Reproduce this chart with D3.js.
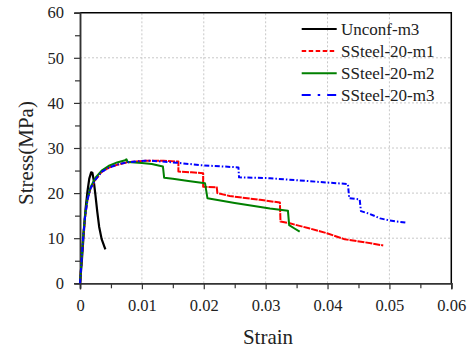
<!DOCTYPE html>
<html>
<head>
<meta charset="utf-8">
<script src="https://cdn.jsdelivr.net/npm/d3@7"></script>
</head>
<body style="margin:0">
<script>
// stress-strain curves
const unconfStrain = [0, 0.0003, 0.0006, 0.0009, 0.0012, 0.0015, 0.0018, 0.002, 0.0022, 0.0025, 0.0028, 0.0031, 0.0035, 0.0041];
const unconfStress = [0, 5, 11, 16.5, 20.3, 23.2, 24.6, 24.5, 23, 19.5, 15.8, 12.5, 9.8, 7.5];

const m1Strain = [0, 0.0002, 0.0005, 0.0008, 0.0012, 0.0017, 0.0025, 0.0035, 0.0046, 0.006, 0.0075, 0.009, 0.0105, 0.0113, 0.0135, 0.0159, 0.0159, 0.018, 0.0199, 0.0199, 0.0221, 0.0222, 0.0242, 0.0291, 0.0323, 0.0324, 0.0339, 0.037, 0.0399, 0.0428, 0.046, 0.049];
const m1Stress = [0, 4, 10, 14.5, 18.5, 21, 23, 24.7, 25.6, 26.3, 26.8, 27.0, 27.15, 27.2, 27.15, 27.0, 24.8, 24.6, 24.4, 21.4, 21.3, 20.0, 19.35, 18.5, 17.9, 13.7, 13.3, 12.2, 11.1, 9.75, 9.1, 8.4];

const m2Strain = [0, 0.0002, 0.0005, 0.0008, 0.0012, 0.0017, 0.0025, 0.0035, 0.0046, 0.006, 0.0073, 0.0075, 0.0077, 0.01, 0.0116, 0.0134, 0.0136, 0.015, 0.0175, 0.0202, 0.0206, 0.025, 0.0307, 0.0336, 0.0338, 0.0346, 0.0355];
const m2Stress = [0, 4, 10.3, 14.8, 18.7, 21.3, 23.4, 25.0, 26.0, 26.8, 27.3, 27.5, 26.9, 26.65, 26.45, 25.9, 23.4, 23.2, 22.7, 22.2, 18.85, 17.8, 16.6, 16.1, 12.9, 12.2, 11.45];

const m3Strain = [0, 0.0002, 0.0005, 0.0008, 0.0012, 0.0017, 0.0025, 0.0035, 0.0046, 0.006, 0.0075, 0.009, 0.0105, 0.0113, 0.0156, 0.0194, 0.0256, 0.0257, 0.0307, 0.0433, 0.0435, 0.0452, 0.0454, 0.0468, 0.0485, 0.0501, 0.0527];
const m3Stress = [0, 4, 10, 14.5, 18.5, 21, 23, 24.7, 25.6, 26.3, 26.8, 27.0, 27.15, 27.2, 26.75, 26.2, 25.7, 23.5, 23.3, 22.0, 18.85, 18.6, 16.0, 15.4, 14.4, 13.9, 13.45];

const seriesNames = ["Unconf-m3", "SSteel-20-m1", "SSteel-20-m2", "SSteel-20-m3"];
const xTicks = [0, 0.01, 0.02, 0.03, 0.04, 0.05, 0.06];
const yTicks = [0, 10, 20, 30, 40, 50, 60];

const series = [
  { name: seriesNames[0], x: unconfStrain, y: unconfStress, color: "#000", dash: null, w: 2.2 },
  { name: seriesNames[1], x: m1Strain, y: m1Stress, color: "#ff0000", dash: "7,1", w: 2, legDash: "4.5,2.5" },
  { name: seriesNames[2], x: m2Strain, y: m2Stress, color: "#008000", dash: null, w: 2 },
  { name: seriesNames[3], x: m3Strain, y: m3Stress, color: "#0000ff", dash: "5,2,1.5,2", w: 2, legDash: "9,7,2.5,7" }
];

const FONT = "Liberation Serif";
const W = 476, H = 350;
const m = { left: 80, right: 476 - 451.3, top: 12.7, bottom: 350 - 283.3 };

const svg = d3.select("body").append("svg")
  .attr("width", W).attr("height", H)
  .style("display", "block");

const x = d3.scaleLinear().domain([0, 0.06]).range([m.left, W - m.right]);
const y = d3.scaleLinear().domain([0, 60]).range([H - m.bottom, m.top]);

// grid
const grid = svg.append("g")
  .attr("stroke", "#c8c8c8").attr("stroke-dasharray", "2,2");
grid.selectAll(".gx").data(xTicks.slice(1, -1)).enter().append("line")
  .attr("x1", d => x(d)).attr("x2", d => x(d))
  .attr("y1", y(0)).attr("y2", y(60));
grid.selectAll(".gy").data(yTicks.slice(1, -1)).enter().append("line")
  .attr("x1", x(0)).attr("x2", x(0.06))
  .attr("y1", d => y(d)).attr("y2", d => y(d));

// frame top/right
svg.append("path")
  .attr("d", `M${x(0)},${y(60)}H${x(0.06)}V${y(0)}`)
  .attr("fill", "none").attr("stroke", "#000").attr("stroke-width", 1.5);

// axes
const fmtX = d => d === 0 ? "0" : d3.format(".2f")(d);
const xAxis = svg.append("g")
  .attr("transform", `translate(0,${y(0)})`)
  .call(d3.axisBottom(x).tickValues(xTicks).tickFormat(fmtX).tickSize(6).tickPadding(10));
const xMinor = svg.append("g")
  .attr("transform", `translate(0,${y(0)})`)
  .call(d3.axisBottom(x).tickValues(d3.range(0.005, 0.06, 0.01)).tickFormat("").tickSize(5));
const yAxis = svg.append("g")
  .attr("transform", `translate(${x(0)},0)`)
  .call(d3.axisLeft(y).tickValues(yTicks).tickSize(6).tickPadding(10));
const yMinor = svg.append("g")
  .attr("transform", `translate(${x(0)},0)`)
  .call(d3.axisLeft(y).tickValues(d3.range(5, 60, 10)).tickFormat("").tickSize(5));

[xAxis, yAxis, xMinor, yMinor].forEach(g => {
  g.attr("font-family", FONT).attr("font-size", 16.5);
  g.selectAll("path").attr("stroke", "#333").attr("stroke-width", 1.5);
  g.selectAll("line").attr("stroke", "#333").attr("stroke-width", 1.2);
  g.selectAll("text").attr("fill", "#222");
});

// curves
const line = d3.line().x(d => x(d[0])).y(d => y(d[1]));
series.forEach(s => {
  svg.append("path")
    .datum(s.x.map((v, i) => [v, s.y[i]]))
    .attr("d", line)
    .attr("fill", "none")
    .attr("stroke", s.color)
    .attr("stroke-width", s.w)
    .attr("stroke-dasharray", s.dash)
    .attr("stroke-linejoin", "round");
});

// legend
const leg = svg.append("g").attr("font-family", FONT).attr("font-size", 17);
const rowY = [29, 51, 73.3, 95];
series.forEach((s, i) => {
  leg.append("line")
    .attr("x1", 301.7).attr("x2", 336.7)
    .attr("y1", rowY[i]).attr("y2", rowY[i])
    .attr("stroke", s.color).attr("stroke-width", 2)
    .attr("stroke-dasharray", s.legDash || null);
  leg.append("text")
    .attr("x", 341).attr("y", rowY[i] + 6)
    .attr("fill", "#222")
    .text(s.name);
});

// axis titles
svg.append("text")
  .attr("transform", `translate(33,153) rotate(-90)`)
  .attr("text-anchor", "middle")
  .attr("font-family", FONT).attr("font-size", 21).attr("fill", "#222")
  .text("Stress(MPa)");
svg.append("text")
  .attr("x", 268).attr("y", 344)
  .attr("text-anchor", "middle")
  .attr("font-family", FONT).attr("font-size", 21).attr("fill", "#222")
  .text("Strain");
</script>
</body>
</html>
